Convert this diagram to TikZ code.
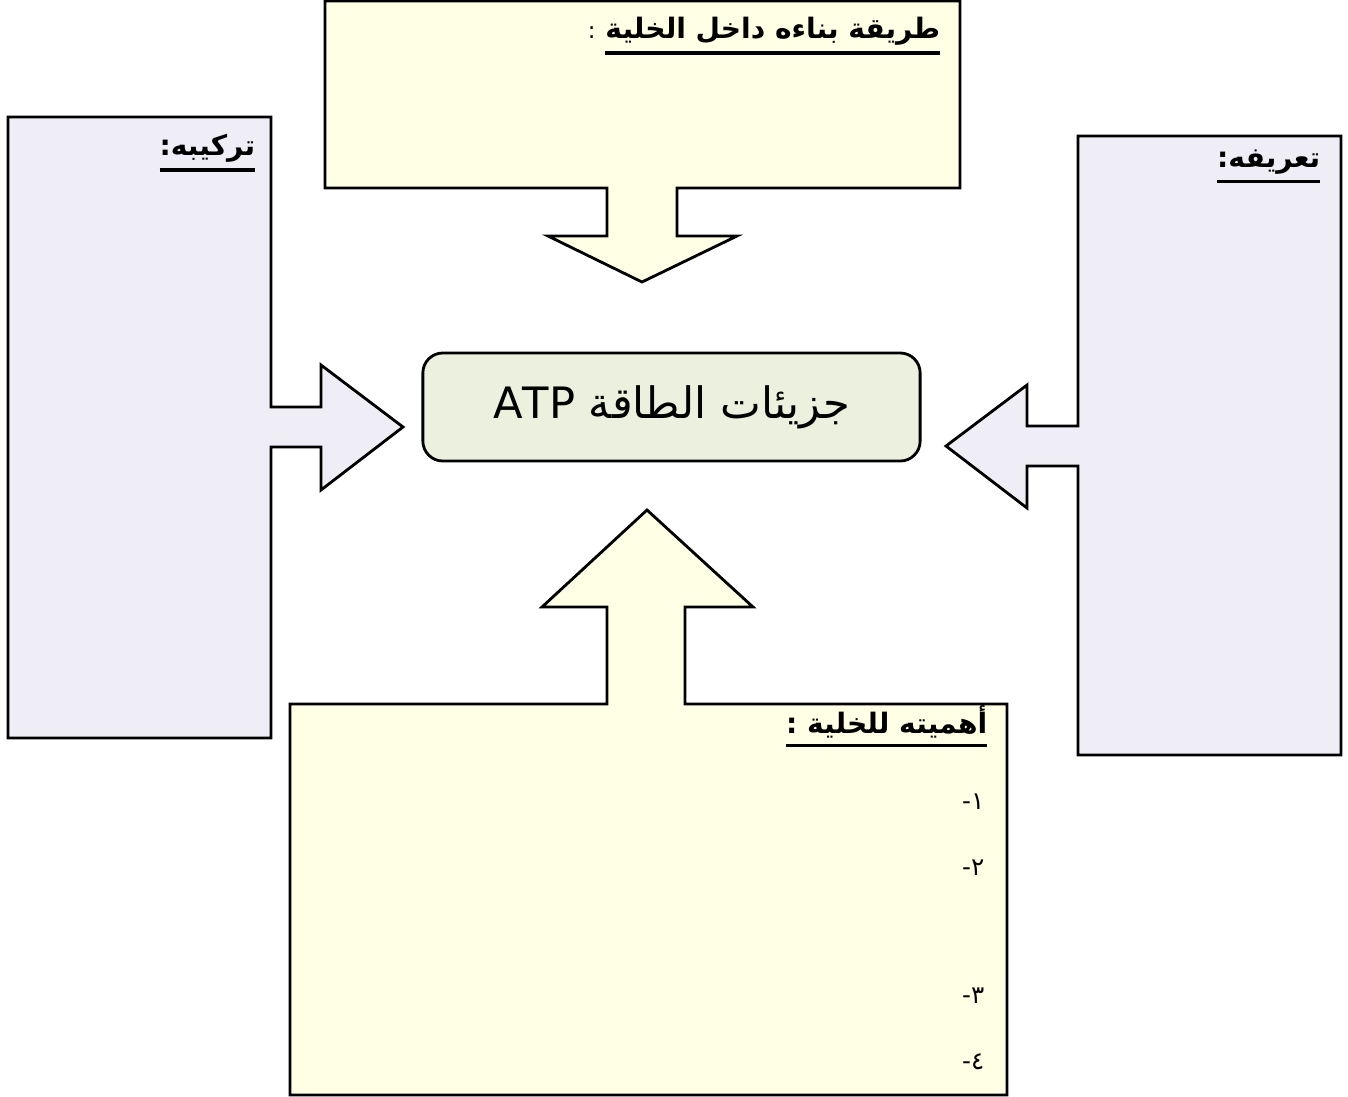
\documentclass[tikz,border=0pt]{standalone}
\usepackage{fontspec}
\usepackage{xcolor}
\usepackage{tikz}
\newfontfamily\arabicfont[Script=Arabic]{DejaVu Sans}
\TeXXeTstate=1
\definecolor{lightcream}{RGB}{255, 255, 229}
\definecolor{lightlavender}{RGB}{239, 237, 245}
\definecolor{palegreen}{RGB}{235, 241, 222}
% heavier underline for the box headings
\newcommand{\heavyul}[1]{\vtop{\hbox{#1}\kern1.6pt\hrule height 0.9pt}}

\tikzset{
    creambox/.style={draw=black, line width=0.8pt, fill=lightcream, line join=miter},
    lavenderbox/.style={draw=black, line width=0.8pt, fill=lightlavender, line join=miter},
    boxtitle/.style={anchor=east, inner sep=0pt, font=\arabicfont\bfseries\fontsize{8}{10}\selectfont},
    itemlabel/.style={anchor=east, inner sep=0pt, font=\arabicfont\fontsize{7}{8}\selectfont}
}

\begin{document}
\begin{tikzpicture}[x=0.01cm, y=-0.01cm]
        \useasboundingbox (0,0) rectangle (1348,1096);

        % callout boxes with their arrows
        \draw[creambox] (325,1) -- (960,1) -- (960,188) -- (677,188) -- (677,236) -- (737,236)
            -- (642,282) -- (548,236) -- (607,236) -- (607,188) -- (325,188) -- cycle;
        \draw[lavenderbox] (8,117) -- (271,117) -- (271,407) -- (321,407) -- (321,365) -- (403,427)
            -- (321,490) -- (321,447) -- (271,447) -- (271,738) -- (8,738) -- cycle;
        \draw[lavenderbox] (1078,136) -- (1341,136) -- (1341,755) -- (1078,755) -- (1078,466)
            -- (1027,466) -- (1027,508) -- (946,446) -- (1027,385) -- (1027,426) -- (1078,426) -- cycle;
        \draw[creambox] (290,704) -- (607,704) -- (607,607) -- (542,607) -- (647,510) -- (753,607)
            -- (685,607) -- (685,704) -- (1007,704) -- (1007,1095) -- (290,1095) -- cycle;

        % centre
        \node[draw=black, line width=0.8pt, fill=palegreen, rounded corners=0.2cm,
              minimum width=4.97cm, minimum height=1.08cm,
              font=\arabicfont\fontsize{12.3}{15}\selectfont] (atp) at (671.5,407)
            {\beginR جزيئات الطاقة \beginL ATP\endL\endR};

        % titles
        \node[boxtitle] (buildtitle) at (941,36)
            {\beginR\heavyul{\beginR طريقة بناءه داخل الخلية\endR}\ {\mdseries\fontsize{6.5}{8}\selectfont :}\endR};
        \node[boxtitle] (structtitle) at (256,153) {\heavyul{\beginR تركيبه:\endR}};
        \node[boxtitle] (deftitle) at (1321,166) {\heavyul{\beginR تعريفه:\endR}};
        \node[boxtitle] (roletitle) at (988,726) {\heavyul{\beginR أهميته للخلية :\endR}};

        % numbered points
        \node[itemlabel] (roleone) at (985,802) {\beginR ١-\endR};
        \node[itemlabel] (roletwo) at (985,868) {\beginR ٢-\endR};
        \node[itemlabel] (rolethree) at (985,996) {\beginR ٣-\endR};
        \node[itemlabel] (rolefour) at (985,1062) {\beginR ٤-\endR};
    \end{tikzpicture}
\end{document}
